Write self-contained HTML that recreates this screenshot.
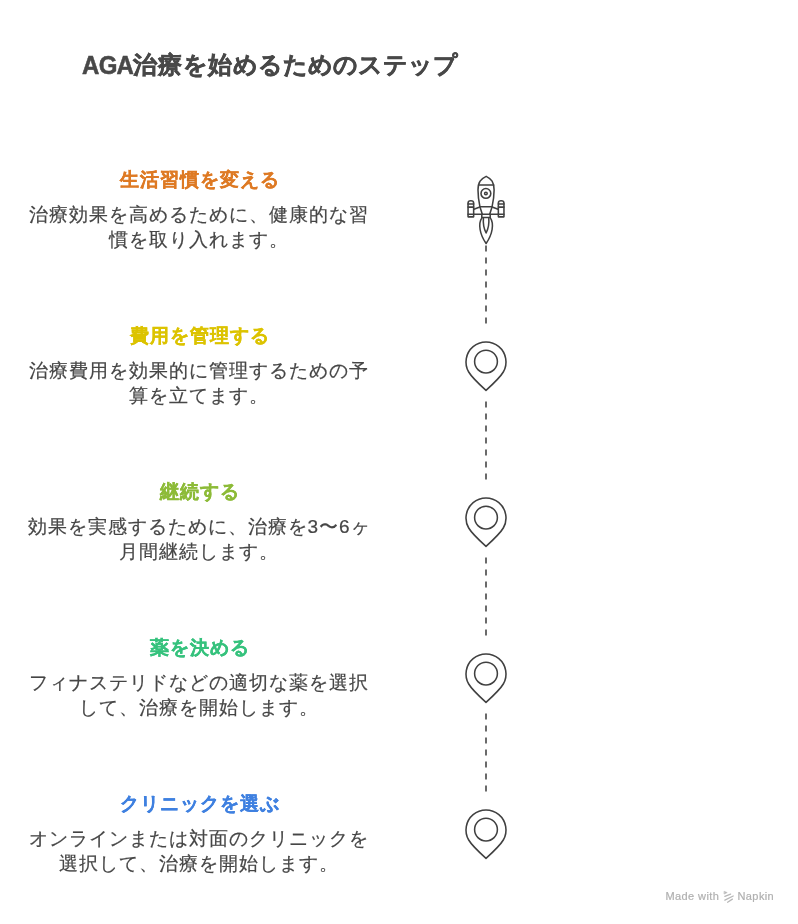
<!DOCTYPE html>
<html lang="ja">
<head>
<meta charset="utf-8">
<style>
html,body{margin:0;padding:0;background:#fff;}
body{width:798px;height:924px;position:relative;overflow:hidden;will-change:transform;font-family:"Liberation Sans",sans-serif;}
.title{position:absolute;left:82px;top:46.6px;font-size:24px;font-weight:bold;color:#484848;white-space:nowrap;line-height:36px;-webkit-text-stroke:0.5px #484848;}
.h{position:absolute;left:30.3px;width:340px;text-align:center;font-size:19px;letter-spacing:1px;font-weight:bold;line-height:24px;white-space:nowrap;-webkit-text-stroke:0.3px currentColor;}
.d{position:absolute;left:19.1px;width:360px;text-align:center;font-size:19px;letter-spacing:1px;line-height:25px;color:#464646;-webkit-text-stroke:0.2px #464646;}
.foot{position:absolute;left:665.5px;top:889px;font-size:11px;line-height:14px;color:#b0b0b0;white-space:nowrap;-webkit-text-stroke:0.2px #b0b0b0;}
svg{position:absolute;left:0;top:0;}
</style>
</head>
<body>
<div class="title"><span style="display:inline-block;letter-spacing:-0.7px;transform:translateY(1.2px) scaleY(1.05);transform-origin:0 26.3px">AGA</span><span style="letter-spacing:1px">治療</span>を<span style="letter-spacing:1px">始</span>めるためのステップ</div>

<div class="h" style="top:167.8px;color:#de7a24">生活習慣を変える</div>
<div class="d" style="top:202.4px">治療効果を高めるために、健康的な習<br>慣を取り入れます。</div>

<div class="h" style="top:323.8px;color:#dcc300">費用を管理する</div>
<div class="d" style="top:358.4px">治療費用を効果的に管理するための予<br>算を立てます。</div>

<div class="h" style="top:479.8px;color:#8dbb38">継続する</div>
<div class="d" style="top:514.4px">効果を実感するために、治療を3〜6ヶ<br>月間継続します。</div>

<div class="h" style="top:635.8px;color:#36c27d">薬を決める</div>
<div class="d" style="top:670.4px">フィナステリドなどの適切な薬を選択<br>して、治療を開始します。</div>

<div class="h" style="top:791.8px;color:#3f80e0">クリニックを選ぶ</div>
<div class="d" style="top:826.4px">オンラインまたは対面のクリニックを<br>選択して、治療を開始します。</div>

<svg width="798" height="924" viewBox="0 0 798 924" fill="none" stroke="#404040" stroke-width="1.55" stroke-linecap="round" stroke-linejoin="round">
  <!-- dashed connectors -->
  <g stroke-dasharray="6 6" stroke-linecap="butt">
    <line x1="486" y1="245.4" x2="486" y2="323.4"/>
    <line x1="486" y1="401.4" x2="486" y2="479.4"/>
    <line x1="486" y1="557.4" x2="486" y2="635.4"/>
    <line x1="486" y1="713.4" x2="486" y2="791.4"/>
  </g>
  <!-- rocket -->
  <g>
    <path d="M486.2 176.4 C483.5 177.6 481.4 179.4 480.1 181.1 C478.7 183.2 478 186.5 478 190 C478 196 478.9 202 479.9 206.7 L492.1 206.7 C493.1 202 494.1 196 494.1 190 C494.1 186.5 493.4 183.2 492.1 181.1 C490.8 179.4 488.8 177.6 486.2 176.4 Z"/>
    <line x1="478.6" y1="184.9" x2="493.6" y2="184.9"/>
    <circle cx="485.9" cy="193.4" r="4.9"/>
    <circle cx="485.9" cy="193.5" r="1.3"/>
    <path d="M479.9 206.7 L482.3 214.3 M492.1 206.7 L489.7 214.3"/>
    <path d="M473.9 214.3 L498.1 214.3"/>
    <path d="M481.8 214.3 L481.8 217.5 L490.2 217.5 L490.2 214.3"/>
    <path d="M473.9 209.3 L479.2 207.2 M498.1 209.3 L492.8 207.2"/>
    <path d="M468.05 216.85 L468.05 203 C468.05 201.5 469.3 200.75 470.85 200.75 C472.4 200.75 473.65 201.5 473.65 203 L473.65 216.85 Z"/>
    <path d="M498.35 216.85 L498.35 203 C498.35 201.5 499.6 200.75 501.15 200.75 C502.7 200.75 503.95 201.5 503.95 203 L503.95 216.85 Z"/>
    <path d="M468.05 204 L473.65 204 M468.05 207.1 L473.65 207.1 M468.05 214.3 L473.65 214.3"/>
    <path d="M498.35 204 L503.95 204 M498.35 207.1 L503.95 207.1 M498.35 214.3 L503.95 214.3"/>
    <path d="M481.9 217.9 C480 220.5 479.4 225 480.1 229.5 C480.9 234.5 483.7 240 486.1 243.5 C488.5 240 491.3 234.5 492.1 229.5 C492.8 225 492.2 220.5 490.3 217.9"/>
    <path d="M483.4 218.6 C483 223 484.1 229 486.1 233 C488.1 229 489.2 223 488.8 218.6"/>
  </g>
  <!-- pins -->
  <g transform="translate(0 0)">
    <path d="M486 390.4 C481.6 386.4 471.2 376.3 468.7 372 A20 20 0 1 1 503.3 372 C500.8 376.3 490.4 386.4 486 390.4 Z"/>
    <circle cx="486" cy="361.6" r="11.4"/>
  </g>
<g transform="translate(0 156)">
    <path d="M486 390.4 C481.6 386.4 471.2 376.3 468.7 372 A20 20 0 1 1 503.3 372 C500.8 376.3 490.4 386.4 486 390.4 Z"/>
    <circle cx="486" cy="361.6" r="11.4"/>
  </g>
<g transform="translate(0 312)">
    <path d="M486 390.4 C481.6 386.4 471.2 376.3 468.7 372 A20 20 0 1 1 503.3 372 C500.8 376.3 490.4 386.4 486 390.4 Z"/>
    <circle cx="486" cy="361.6" r="11.4"/>
  </g>
<g transform="translate(0 468)">
    <path d="M486 390.4 C481.6 386.4 471.2 376.3 468.7 372 A20 20 0 1 1 503.3 372 C500.8 376.3 490.4 386.4 486 390.4 Z"/>
    <circle cx="486" cy="361.6" r="11.4"/>
  </g>
</svg>

<div class="foot"><span style="display:inline-block;width:72px;letter-spacing:0.4px">Made with</span><span style="letter-spacing:0.4px">Napkin</span></div>
<svg width="798" height="924" viewBox="0 0 798 924" fill="none" stroke="#b8b8b8" stroke-width="1.3" stroke-linecap="round">
  <path d="M724.4 891.4 L727.2 892.6 L724.4 893.9 Z" fill="#b8b8b8" stroke-width="0.6"/>
  <line x1="724.9" y1="896.4" x2="730.6" y2="894.1"/>
  <line x1="724.9" y1="900.2" x2="733.2" y2="896"/>
  <line x1="727.6" y1="902.2" x2="732.4" y2="899.1"/>
</svg>
</body>
</html>
